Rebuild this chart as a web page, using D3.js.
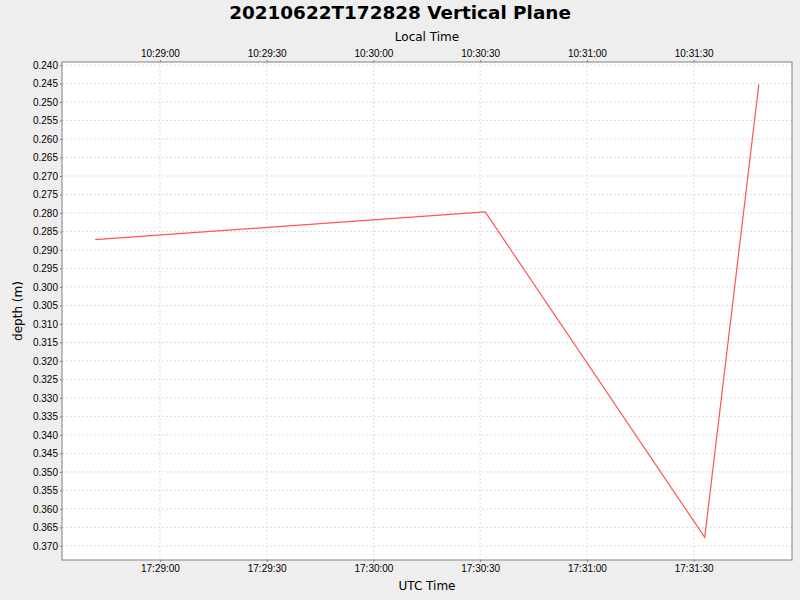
<!DOCTYPE html>
<html lang="en">
<head>
<meta charset="UTF-8">
<title>20210622T172828 Vertical Plane</title>
<style>
  body { margin: 0; background: #eeeeee; }
  svg { display: block; font-family: "DejaVu Sans", sans-serif; }
  .tick text { font-size: 10px; fill: #000; }
  .tick line { stroke: #808080; }
  .domain { display: none; }
</style>
</head>
<body>
<script src="https://d3js.org/d3.v7.min.js"></script>
<div id="chart"></div>
<script>

// data (UTC times, depth in metres)
const utcTimes = ["2021-06-22T17:28:41.8Z", "2021-06-22T17:30:31.4Z", "2021-06-22T17:31:33.1Z", "2021-06-22T17:31:48.3Z"];
const depths = [0.2872, 0.2797, 0.3677, 0.2453];
const depthTicks = [0.240, 0.245, 0.250, 0.255, 0.260, 0.265, 0.270, 0.275, 0.280, 0.285, 0.290, 0.295,
   0.300, 0.305, 0.310, 0.315, 0.320, 0.325, 0.330, 0.335, 0.340, 0.345, 0.350, 0.355, 0.360, 0.365, 0.370];
const localOffsetHours = -7;

const chartTitle = "20210622T172828 Vertical Plane";

let width = 800, height = 600;
let margin = {top: 62, right: 8, bottom: 40, left: 62};
let plotW = width - margin.left - margin.right,
    plotH = height - margin.top - margin.bottom;

let data = utcTimes.map((t, i) => ({ t: new Date(t), v: depths[i] }));

// auto range with 5% margin like the original
let tExt = d3.extent(data, d => d.t);
let tPad = (tExt[1] - tExt[0]) * 0.05;
let vExt = d3.extent(data, d => d.v);
let vPad = (vExt[1] - vExt[0]) * 0.05;

const x = d3.scaleUtc()
   .domain([new Date(+tExt[0] - tPad), new Date(+tExt[1] + tPad)])
   .range([0, plotW]);

const xLocal = d3.scaleUtc()
   .domain(x.domain().map(d => new Date(+d + localOffsetHours * 3600000)))
   .range([0, plotW]);

const y = d3.scaleLinear()
   .domain([vExt[0] - vPad, vExt[1] + vPad])
   .range([0, plotH]);   // depth grows downward

let svg = d3.select("#chart").append("svg")
   .attr("width", width)
   .attr("height", height);

svg.append("rect").attr("width", width).attr("height", height).attr("fill", "#eeeeee");

let g = svg.append("g").attr("transform", `translate(${margin.left},${margin.top})`);

g.append("rect")
   .attr("width", plotW).attr("height", plotH)
   .attr("fill", "#ffffff");

const fmt = d3.utcFormat("%H:%M:%S");
const every30 = d3.utcSecond.every(30);

// grid lines
g.append("g").selectAll("line")
   .data(x.ticks(every30))
   .join("line")
   .attr("x1", d => x(d)).attr("x2", d => x(d))
   .attr("y1", 0).attr("y2", plotH)
   .attr("stroke", "#dedede").attr("stroke-dasharray", "2,2");

g.append("g").selectAll("line")
   .data(depthTicks)
   .join("line")
   .attr("x1", 0).attr("x2", plotW)
   .attr("y1", d => y(d)).attr("y2", d => y(d))
   .attr("stroke", "#dedede").attr("stroke-dasharray", "2,2");

// axes
g.append("g")
   .attr("transform", `translate(0,${plotH})`)
   .call(d3.axisBottom(x).ticks(every30).tickFormat(fmt).tickSize(2).tickPadding(3));

g.append("g")
   .call(d3.axisTop(xLocal).ticks(every30).tickFormat(fmt).tickSize(2).tickPadding(3));

g.append("g")
   .call(d3.axisLeft(y).tickValues(depthTicks).tickFormat(d3.format(".3f")).tickSize(2).tickPadding(2));

// plot border
g.append("rect")
   .attr("width", plotW).attr("height", plotH)
   .attr("fill", "none").attr("stroke", "#808080");

// the series
g.append("path")
   .datum(data)
   .attr("fill", "none")
   .attr("stroke", "#ff5555")
   .attr("stroke-width", 1.2)
   .attr("d", d3.line().x(d => x(d.t)).y(d => y(d.v)));

// titles
svg.append("text")
   .attr("x", width / 2).attr("y", 19)
   .attr("text-anchor", "middle")
   .style("font-size", "18.4px").style("font-weight", "bold")
   .text(chartTitle);

svg.append("text")
   .attr("x", margin.left + plotW / 2).attr("y", 41)
   .attr("text-anchor", "middle")
   .style("font-size", "12px")
   .text("Local Time");

svg.append("text")
   .attr("x", margin.left + plotW / 2).attr("y", 590)
   .attr("text-anchor", "middle")
   .style("font-size", "12px")
   .text("UTC Time");

svg.append("text")
   .attr("transform", `translate(22,${margin.top + plotH / 2}) rotate(-90)`)
   .attr("text-anchor", "middle")
   .style("font-size", "12px")
   .text("depth (m)");

</script>
</body>
</html>
